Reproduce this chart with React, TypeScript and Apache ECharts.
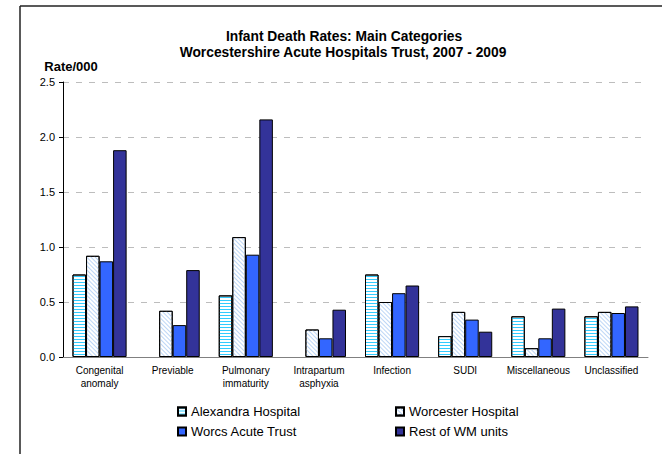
import React, { useEffect, useRef } from "react";
import * as echarts from "echarts";

const categories = [
  "Congenital\nanomaly",
  "Previable",
  "Pulmonary\nimmaturity",
  "Intrapartum\nasphyxia",
  "Infection",
  "SUDI",
  "Miscellaneous",
  "Unclassified",
];
const seriesNames = ["Alexandra Hospital", "Worcester Hospital", "Worcs Acute Trust", "Rest of WM units"];
const alexandra = [0.75, null, 0.56, null, 0.75, 0.19, 0.37, 0.37];
const worcester = [0.92, 0.42, 1.09, 0.25, 0.5, 0.41, 0.08, 0.41];
const worcsAcute = [0.87, 0.29, 0.93, 0.17, 0.58, 0.34, 0.17, 0.4];
const restWM = [1.88, 0.79, 2.16, 0.43, 0.65, 0.23, 0.44, 0.46];
const yTicks = [0, 0.5, 1.0, 1.5, 2.0, 2.5];

const FONT = "Liberation Sans, Arial, sans-serif";

export default function App() {
  const ref = useRef<HTMLDivElement>(null);
  useEffect(() => {
    if (!ref.current) return;
    const chart = echarts.init(ref.current, undefined, { renderer: "svg" });
    const baseItem = { borderColor: "#000", borderWidth: 1 };
    const legendCommon = {
      orient: "vertical",
      top: 405,
      padding: 0,
      itemWidth: 8,
      itemHeight: 8,
      itemGap: 7,
      textStyle: { fontSize: 13, color: "#000", fontFamily: FONT },
      icon: "rect",
      selectedMode: false,
    };
    const option: any = {
      animation: false,
      backgroundColor: "#fff",
      textStyle: { fontFamily: FONT },
      graphic: [
        { type: "line", shape: { x1: 20, y1: 6, x2: 20, y2: 460 }, style: { stroke: "#222", lineWidth: 1.5 } },
        { type: "line", shape: { x1: 20, y1: 6, x2: 670, y2: 6 }, style: { stroke: "#222", lineWidth: 1.5 } },
        {
          type: "text",
          x: 344,
          y: 36,
          style: { text: "Infant Death Rates: Main Categories", font: `bold 13.8px ${FONT}`, fill: "#000", textAlign: "center", textVerticalAlign: "middle" },
        },
        {
          type: "text",
          x: 343,
          y: 52,
          style: { text: "Worcestershire Acute Hospitals Trust, 2007 - 2009", font: `bold 13.8px ${FONT}`, fill: "#000", textAlign: "center", textVerticalAlign: "middle" },
        },
        {
          type: "text",
          x: 71,
          y: 66,
          style: { text: "Rate/000", font: `bold 13px ${FONT}`, fill: "#000", textAlign: "center", textVerticalAlign: "middle" },
        },
      ],
      legend: [
        { ...legendCommon, left: 177, data: [seriesNames[0], seriesNames[2]] },
        { ...legendCommon, left: 395, data: [seriesNames[1], seriesNames[3]] },
      ],
      grid: { left: 63, right: 14, top: 82, bottom: 97, containLabel: false },
      xAxis: {
        type: "category",
        data: categories,
        boundaryGap: true,
        axisLine: { lineStyle: { color: "#808080", width: 1 } },
        axisTick: { lineStyle: { color: "#000" }, length: 4 },
        axisLabel: { fontSize: 10, lineHeight: 13, color: "#000", margin: 7, interval: 0, fontFamily: FONT },
        splitLine: { show: false },
      },
      yAxis: {
        type: "value",
        min: 0,
        max: 2.5,
        interval: 0.5,
        axisLine: { show: true, lineStyle: { color: "#000", width: 1 } },
        axisTick: { show: true, length: 4, lineStyle: { color: "#000" } },
        axisLabel: {
          fontSize: 11,
          color: "#000",
          margin: 8,
          fontFamily: FONT,
          formatter: (v: number) => (yTicks.includes(v) ? v.toFixed(1) : ""),
        },
        splitLine: { show: true, lineStyle: { color: "#BDBDBD", type: [6, 7], width: 1 } },
      },
      series: [
        {
          name: seriesNames[0],
          type: "bar",
          data: alexandra,
          barGap: "0%",
          barCategoryGap: "26%",
          itemStyle: {
            ...baseItem,
            color: "#fff",
            decal: { symbol: "rect", symbolSize: 1, color: "#33CCFF", dashArrayX: [1, 0], dashArrayY: [1, 2], rotation: 0 },
          },
        },
        {
          name: seriesNames[1],
          type: "bar",
          data: worcester,
          barGap: "0%",
          barCategoryGap: "26%",
          itemStyle: {
            ...baseItem,
            color: "#fff",
            decal: { symbol: "rect", symbolSize: 1, color: "#BCD6F6", dashArrayX: [1, 0], dashArrayY: [1, 1.5], rotation: Math.PI / 4 },
          },
        },
        {
          name: seriesNames[2],
          type: "bar",
          data: worcsAcute,
          barGap: "0%",
          barCategoryGap: "26%",
          itemStyle: { ...baseItem, color: "#3366FF" },
        },
        {
          name: seriesNames[3],
          type: "bar",
          data: restWM,
          barGap: "0%",
          barCategoryGap: "26%",
          itemStyle: { ...baseItem, color: "#333399" },
        },
      ],
    };
    chart.setOption(option);
    return () => chart.dispose();
  }, []);
  return (
    <div
      ref={ref}
      style={{ position: "fixed", left: 0, top: 0, width: 662, height: 454, background: "#fff" }}
    />
  );
}
